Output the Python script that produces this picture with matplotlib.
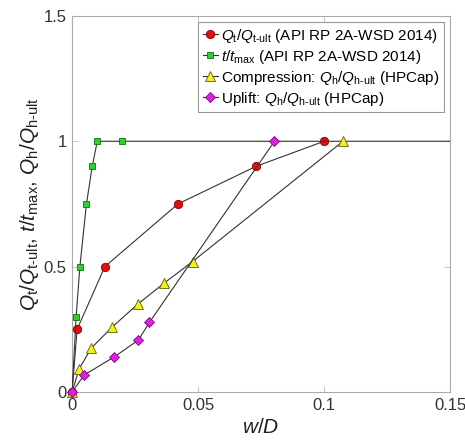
import matplotlib
matplotlib.use("Agg")
import matplotlib.pyplot as plt

plt.rcParams['font.family'] = ['Liberation Sans', 'DejaVu Sans']
plt.rcParams['mathtext.fontset'] = 'custom'
plt.rcParams['mathtext.rm'] = 'Liberation Sans'
plt.rcParams['mathtext.it'] = 'Liberation Sans:italic'

# API Q-z (tip)
qz_x = [0, 0.002, 0.013, 0.042, 0.073, 0.1]
qz_y = [0, 0.25, 0.5, 0.75, 0.9, 1.0]
# API t-z (shaft); last point stands for "infinity"
tz_x = [0, 0.0016, 0.0031, 0.0057, 0.008, 0.01, 0.02, 1.0]
tz_y = [0, 0.3, 0.5, 0.75, 0.9, 1.0, 1.0, 1.0]
# HPCap compression
comp_x = [0, 0.0028, 0.0076, 0.016, 0.026, 0.0366, 0.0478, 0.1075]
comp_y = [0, 0.092, 0.175, 0.26, 0.35, 0.435, 0.52, 1.0]
# HPCap uplift
upl_x = [0, 0.0048, 0.0167, 0.0263, 0.0307, 0.0803]
upl_y = [0, 0.068, 0.14, 0.207, 0.278, 1.0]

fig = plt.figure(figsize=(4.65, 4.41), dpi=100)
ax = fig.add_axes([0.155, 0.111, 0.813, 0.853])

lc = '#333333'
ax.plot(qz_x, qz_y, '-o', color=lc, lw=0.8, ms=6, mfc='#e01010', mec='#8a0000', mew=0.6,
        clip_on=False, zorder=3,
        label=r'$Q_\mathrm{t}/Q_\mathrm{t\text{-}ult}$ (API RP 2A-WSD 2014)')
ax.plot(tz_x, tz_y, '-s', color=lc, lw=0.8, ms=4.5, mfc='#30d030', mec='#107010', mew=0.6,
        zorder=3,
        label=r'$t/t_\mathrm{max}$ (API RP 2A-WSD 2014)')
ax.plot(comp_x, comp_y, '-^', color=lc, lw=0.8, ms=7, mfc='#f0f020', mec='#606000', mew=0.6,
        clip_on=False, zorder=3,
        label=r'Compression: $Q_\mathrm{h}/Q_\mathrm{h\text{-}ult}$ (HPCap)')
ax.plot(upl_x, upl_y, '-D', color=lc, lw=0.8, ms=5.5, mfc='#e020e0', mec='#800080', mew=0.6,
        clip_on=False, zorder=3,
        label=r'Uplift: $Q_\mathrm{h}/Q_\mathrm{h\text{-}ult}$ (HPCap)')

ax.set_xlim(0, 0.15)
ax.set_ylim(0, 1.5)
ax.set_xticks([0, 0.05, 0.1, 0.15])
ax.set_xticklabels(['0', '0.05', '0.1', '0.15'])
ax.set_yticks([0, 0.5, 1, 1.5])
ax.set_yticklabels(['0', '0.5', '1', '1.5'])
ax.tick_params(direction='in', top=True, right=True, labelsize=12,
               length=4, width=0.6, pad=4, colors='#bbbbbb', labelcolor='#333333')
for s in ax.spines.values():
    s.set_color('#aaaaaa')
    s.set_linewidth(0.8)

ax.set_xlabel(r'$w/D$', fontsize=15, color='#222222', labelpad=4)
ax.set_ylabel(r'$Q_\mathrm{t}/Q_\mathrm{t\text{-}ult}$, $t/t_\mathrm{max}$, $Q_\mathrm{h}/Q_\mathrm{h\text{-}ult}$',
              fontsize=15, color='#222222', labelpad=2)

leg = ax.legend(loc='upper right', fontsize=11, handlelength=1.0, handletextpad=0.2,
                borderpad=0.3, labelspacing=0.2, fancybox=False, framealpha=1,
                edgecolor='#999999', borderaxespad=0.4)
leg.get_frame().set_linewidth(0.8)

fig.savefig('out.png', dpi=100)
